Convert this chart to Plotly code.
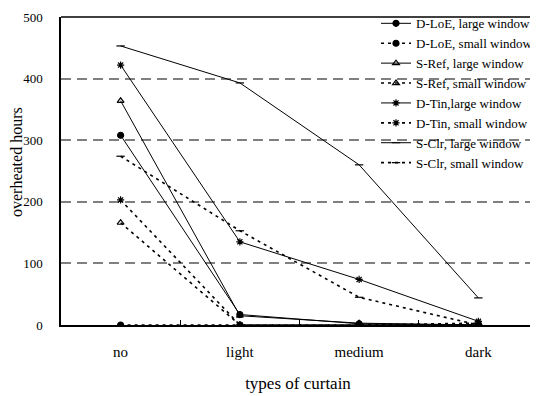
import plotly.graph_objects as go

categories = ["no", "light", "medium", "dark"]

dloe_large = [308, 17, 2, 0]
dloe_small = [0, 0, 0, 0]
sref_large = [364, 15, 3, 0]
sref_small = [166, 0, 0, 0]
dtin_large = [422, 135, 74, 6]
dtin_small = [203, 0, 0, 3]
sclr_large = [453, 393, 260, 44]
sclr_small = [274, 153, 45, 0]

series = [
    ("D-LoE, large window", dloe_large, "circle", "solid"),
    ("D-LoE, small window", dloe_small, "circle", "3px,4px"),
    ("S-Ref, large window", sref_large, "triangle-up-open", "solid"),
    ("S-Ref, small window", sref_small, "triangle-up-open", "3px,4px"),
    ("D-Tin,large window", dtin_large, "asterisk-open", "solid"),
    ("D-Tin, small window", dtin_small, "asterisk-open", "3px,4px"),
    ("S-Clr, large window", sclr_large, "line-ew", "solid"),
    ("S-Clr, small window", sclr_small, "line-ew", "3px,4px"),
]

fig = go.Figure()
for name, vals, sym, dash in series:
    fig.add_trace(go.Scatter(
        x=categories, y=vals, name=name, mode="lines+markers",
        line=dict(color="black", width=1 if dash == "solid" else 1.6, dash=dash),
        marker=dict(symbol=sym, size=6, color="black",
                    line=dict(color="black", width=1.2)),
    ))

font_family = "Liberation Serif, Times New Roman, serif"
fig.update_layout(
    width=530, height=388,
    margin=dict(l=53, r=0, t=7, b=71),
    paper_bgcolor="white", plot_bgcolor="white",
    font=dict(family=font_family, color="black", size=14),
    showlegend=True,
    legend=dict(x=0.665, y=1.028, xanchor="left", yanchor="top",
                bgcolor="rgba(0,0,0,0)", font=dict(size=13, family=font_family),
                itemwidth=30, tracegroupgap=0),
    xaxis=dict(
        type="category", range=[-0.5, 3.475],
        showline=True, linecolor="black", linewidth=2,
        ticks="inside", tickson="boundaries", ticklen=5, tickcolor="black",
        showgrid=False, ticklabelstandoff=12,
        tickfont=dict(size=15, family=font_family),
        title=dict(text="types of curtain", font=dict(size=17, family=font_family), standoff=18),
    ),
    yaxis=dict(
        range=[0, 500], tickvals=[0, 100, 200, 300, 400, 500],
        showline=True, linecolor="black", linewidth=1.5,
        showgrid=True, gridcolor="#808080", gridwidth=1.5, griddash="10px,6px",
        zeroline=False, ticks="", ticklabelstandoff=14,
        tickfont=dict(size=13, family=font_family),
    ),
    annotations=[dict(text="overheated hours", xref="paper", yref="paper",
                      x=-45 / 477, y=0.53, xanchor="center", yanchor="middle",
                      textangle=-90, showarrow=False,
                      font=dict(size=16, family=font_family, color="black"))],
    shapes=[dict(type="line", xref="paper", yref="paper", x0=0, x1=1, y0=1, y1=1,
                 line=dict(color="black", width=1.5), layer="above")],
)

fig.write_html("out.html")
